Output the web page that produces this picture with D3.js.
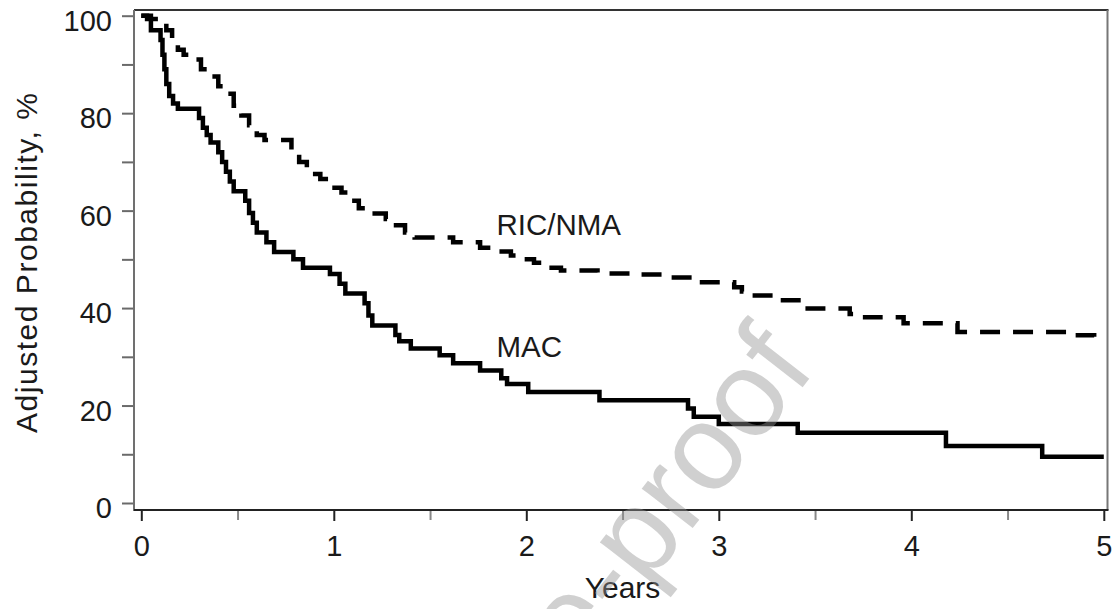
<!DOCTYPE html>
<html>
<head>
<meta charset="utf-8">
<script src="https://cdn.jsdelivr.net/npm/d3@7"></script>
<style>
  html, body { margin: 0; padding: 0; background: #fff; }
  svg { display: block; }
  text { font-family: "Liberation Sans", Arial, Helvetica, sans-serif; }
</style>
</head>
<body>
<svg id="chart" width="1120" height="609"></svg>
<script>
// ---- data ----
const macTime = [0, 0.05, 0.10, 0.11, 0.12, 0.13, 0.145, 0.165, 0.19, 0.30, 0.32, 0.34, 0.36, 0.40, 0.42, 0.44, 0.46, 0.48, 0.54, 0.56, 0.58, 0.60, 0.65, 0.69, 0.79, 0.84, 0.98, 1.03, 1.06, 1.16, 1.18, 1.20, 1.32, 1.34, 1.40, 1.55, 1.62, 1.76, 1.87, 1.90, 2.01, 2.38, 2.84, 2.87, 3.00, 3.41, 4.18, 4.68, 5.0];
const macSurv = [100, 97, 95, 92, 89, 86, 83.5, 82, 80.9, 79, 77, 75.5, 74, 72, 70, 68, 66, 64, 62, 59.5, 57.5, 55.5, 53.5, 51.5, 50, 48.3, 47, 45, 43, 41, 38.5, 36.4, 34.5, 33.2, 31.7, 30.3, 28.7, 27.2, 25.6, 24.4, 22.8, 21.1, 19.4, 17.7, 16.2, 14.4, 11.7, 9.5, 9.5];

const ricTime = [0, 0.03, 0.13, 0.16, 0.19, 0.22, 0.27, 0.31, 0.35, 0.40, 0.45, 0.48, 0.52, 0.56, 0.60, 0.64, 0.78, 0.82, 0.86, 0.93, 0.98, 1.04, 1.09, 1.13, 1.19, 1.27, 1.31, 1.37, 1.42, 1.62, 1.76, 1.84, 1.92, 1.99, 2.04, 2.10, 2.18, 2.37, 2.55, 2.72, 2.86, 3.08, 3.12, 3.16, 3.32, 3.45, 3.68, 3.76, 3.96, 4.24, 4.83, 4.95, 5.0];
const ricSurv = [100, 99.3, 97, 95, 93, 92, 91, 89, 87.5, 85.5, 84, 81.5, 79.5, 77.5, 75.5, 74.5, 71.8, 70, 67.5, 66.5, 64.7, 63.7, 62, 60.5, 59.4, 58.3, 57, 55.5, 54.5, 53.5, 52.4, 51.6, 50.8, 50, 49.3, 48.3, 47.7, 47.1, 46.9, 46.3, 45.3, 44.3, 43.4, 42.6, 41.6, 39.9, 38.8, 38.1, 36.9, 35.1, 34.4, 33.7, 33.7];

const xMajorTicks = [0, 1, 2, 3, 4, 5];
const xMinorTicks = [0.5, 1.5, 2.5, 3.5, 4.5];
const yMajorTicks = [0, 20, 40, 60, 80, 100];
const yMinorTicks = [10, 30, 50, 70, 90];

const seriesNames = ["MAC", "RIC/NMA"];
const seriesLabelPos = [[1.845, 30], [1.845, 55]];   // label anchor in data units
const xTitle = "Years";
const yTitle = "Adjusted Probability,  %";
const watermark = "Journal Pre-proof";

// ---- layout ----
const svg = d3.select("#chart");
const W = 1120, H = 609;
svg.append("rect").attr("width", W).attr("height", H).attr("fill", "#fff");

const x = d3.scaleLinear().domain([0, 5]).range([141.3, 1103.8]);
const y = d3.scaleLinear().domain([0, 100]).range([503, 15.7]);

const axisX = 134;   // y-axis line position
const axisY = 510;   // x-axis line position
const frameTop = 10, frameRight = 1107.5;

const fs = 29;
const txtCol = "#1a1a1a";

// frame: top and right borders
svg.append("line").attr("x1", axisX).attr("x2", frameRight + 1).attr("y1", frameTop).attr("y2", frameTop)
  .attr("stroke", "#333").attr("stroke-width", 2);
svg.append("line").attr("x1", frameRight).attr("x2", frameRight).attr("y1", frameTop).attr("y2", axisY)
  .attr("stroke", "#777").attr("stroke-width", 2);

// y axis
const gy = svg.append("g").attr("transform", `translate(${axisX},0)`);
gy.call(d3.axisLeft(y).tickValues(yMajorTicks).tickSize(12).tickPadding(10).tickFormat(d3.format("d")));
gy.select(".domain").remove();
gy.selectAll(".tick line").attr("stroke", "#6a6a6a").attr("stroke-width", 2);
gy.selectAll(".tick text").attr("font-size", fs).attr("font-family", "Liberation Sans, Arial, sans-serif")
  .attr("fill", txtCol).attr("dy", "0.5em");
const gyMinor = svg.append("g").attr("transform", `translate(${axisX},0)`);
gyMinor.call(d3.axisLeft(y).tickValues(yMinorTicks).tickSize(12).tickFormat(""));
gyMinor.select(".domain").remove();
gyMinor.selectAll(".tick line").attr("stroke", "#6a6a6a").attr("stroke-width", 2);
svg.append("line").attr("x1", axisX).attr("x2", axisX).attr("y1", frameTop).attr("y2", axisY + 1)
  .attr("stroke", "#707070").attr("stroke-width", 2);

// x axis
const gx = svg.append("g").attr("transform", `translate(0,${axisY})`);
gx.call(d3.axisBottom(x).tickValues(xMajorTicks).tickSize(11).tickPadding(14).tickFormat(d3.format("d")));
gx.select(".domain").remove();
gx.selectAll(".tick line").attr("stroke", "#222").attr("stroke-width", 2);
gx.selectAll(".tick text").attr("font-size", fs).attr("font-family", "Liberation Sans, Arial, sans-serif")
  .attr("fill", txtCol);
const gxMinor = svg.append("g").attr("transform", `translate(0,${axisY})`);
gxMinor.call(d3.axisBottom(x).tickValues(xMinorTicks).tickSize(10).tickFormat(""));
gxMinor.select(".domain").remove();
gxMinor.selectAll(".tick line").attr("stroke", "#888").attr("stroke-width", 2);
svg.append("line").attr("x1", axisX).attr("x2", frameRight + 1).attr("y1", axisY).attr("y2", axisY)
  .attr("stroke", "#222").attr("stroke-width", 2);

// axis titles
svg.append("text").attr("x", x(2.5)).attr("y", 598).attr("text-anchor", "middle")
  .attr("font-size", 30).attr("fill", txtCol).text(xTitle);
svg.append("text").attr("transform", "translate(37,263) rotate(-90)").attr("text-anchor", "middle")
  .attr("font-size", 30).attr("fill", txtCol)
  .attr("textLength", 340).attr("lengthAdjust", "spacing").text(yTitle);

// curves
const line = d3.line().x(d => x(d[0])).y(d => y(d[1])).curve(d3.curveStepAfter);
const macData = macTime.map((t, i) => [t, macSurv[i]]);
const ricData = ricTime.map((t, i) => [t, ricSurv[i]]);

svg.append("path").datum(macData).attr("d", line).attr("fill", "none")
  .attr("stroke", "#000").attr("stroke-width", 4.5).attr("stroke-linejoin", "miter");
svg.append("path").datum(ricData).attr("d", line).attr("fill", "none")
  .attr("stroke", "#000").attr("stroke-width", 4.5).attr("stroke-dasharray", "20,13");

// series labels
seriesNames.forEach((n, i) => {
  svg.append("text").attr("x", x(seriesLabelPos[i][0])).attr("y", y(seriesLabelPos[i][1]))
    .attr("font-size", 29.5).attr("fill", txtCol).text(n);
});

// watermark
svg.append("text").attr("transform", "translate(817,369) rotate(-52)").attr("text-anchor", "end")
  .attr("font-size", 122).attr("fill", "#939393").attr("fill-opacity", 0.44).text(watermark);
</script>
</body>
</html>
